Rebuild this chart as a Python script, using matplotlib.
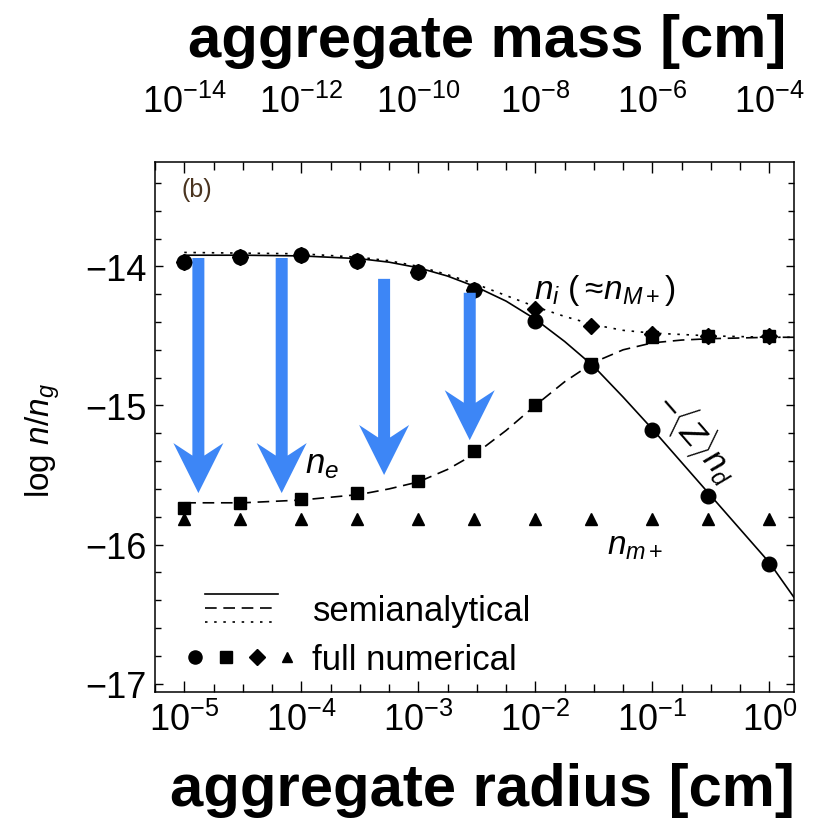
import numpy as np
import matplotlib
matplotlib.use("Agg")
import matplotlib.pyplot as plt
from matplotlib.ticker import FixedLocator, NullFormatter, LogFormatterSciNotation
from matplotlib.patches import FancyArrow
from matplotlib.lines import Line2D
from matplotlib.legend_handler import HandlerBase

plt.rcParams['font.family'] = ['Liberation Sans', 'DejaVu Sans']
plt.rcParams['mathtext.fontset'] = 'custom'
plt.rcParams['mathtext.rm'] = 'Liberation Sans'
plt.rcParams['mathtext.it'] = 'Liberation Sans:italic'
plt.rcParams['mathtext.bf'] = 'Liberation Sans:bold'

# full numerical results (log n/n_g)
radius = [1e-5, 3e-5, 1e-4, 3e-4, 1e-3, 3e-3, 1e-2, 3e-2, 1e-1, 3e-1, 1.0]
num_Znd = [-13.97, -13.93, -13.92, -13.96, -14.04, -14.17, -14.39, -14.72, -15.18, -15.65, -16.14]
num_ne = [-15.74, -15.70, -15.67, -15.63, -15.54, -15.33, -15.00, -14.70, -14.51, -14.50, -14.50]
num_ni = [-13.97, -13.93, -13.92, -13.96, -14.04, -14.17, -14.31, -14.43, -14.49, -14.50, -14.50]
num_nm = [-15.82, -15.82, -15.82, -15.82, -15.82, -15.82, -15.82, -15.82, -15.82, -15.82, -15.82]

# semianalytical curves, read at these log10(radius) values
curve_logr = [-5, -4.5, -4, -3.5, -3.25, -3, -2.75, -2.5, -2.25, -2, -1.75,
              -1.5, -1.25, -1, -0.75, -0.5, -0.25, 0, 0.21]
semi_Znd = [-13.92, -13.92, -13.925, -13.945, -13.97, -14.01, -14.07, -14.15, -14.25,
            -14.38, -14.54, -14.72, -14.94, -15.17, -15.41, -15.65, -15.89, -16.13, -16.38]
semi_ne = [-15.70, -15.70, -15.68, -15.64, -15.60, -15.55, -15.46, -15.34, -15.18,
           -15.00, -14.83, -14.69, -14.60, -14.55, -14.53, -14.52, -14.515, -14.51, -14.51]
semi_ni = [-13.90, -13.905, -13.91, -13.935, -13.96, -14.00, -14.06, -14.13, -14.21,
           -14.29, -14.36, -14.42, -14.46, -14.48, -14.49, -14.50, -14.505, -14.51, -14.51]

# blue arrows: radius, start and end of log n/n_g
arrow_r = [1.32e-5, 6.8e-5, 5.1e-4, 2.75e-3]
arrow_top = [-13.94, -13.94, -14.09, -14.19]
arrow_tip = [-15.63, -15.63, -15.50, -15.25]
arrow_color = '#3d86f6'

mass_ticks = [1e-14, 1e-12, 1e-10, 1e-8, 1e-6, 1e-4]


class StackedLines(HandlerBase):
    # three line styles stacked above each other
    def create_artists(self, legend, orig_handle, xdescent, ydescent, width, height, fontsize, trans):
        yc = height / 2 - ydescent
        arts = []
        for k, h in enumerate(orig_handle):
            y = yc + (1 - k) * 10
            ln = Line2D([-xdescent, width - xdescent], [y, y], color='k', lw=h.get_linewidth(),
                        transform=trans)
            dash = h._unscaled_dash_pattern[1]
            if dash:
                ln.set_dashes(dash)
            arts.append(ln)
        return arts


class RowMarkers(HandlerBase):
    # markers side by side
    def create_artists(self, legend, orig_handle, xdescent, ydescent, width, height, fontsize, trans):
        n = len(orig_handle)
        xc = width / 2 - xdescent
        yc = height / 2 - ydescent
        arts = []
        for k, h in enumerate(orig_handle):
            x = xc + (k - (n - 1) / 2) * 22
            arts.append(Line2D([x], [yc], marker=h.get_marker(), ms=h.get_markersize() * 0.9,
                               color='k', ls='none', transform=trans))
        return arts


fig = plt.figure(figsize=(8.21, 8.20), dpi=100)
ax = fig.add_axes([0.1888, 0.1549, 0.7783, 0.6463])
ax.set_xscale('log')
ax.set_xlim(10 ** -5.25, 10 ** 0.21)
ax.set_ylim(-17.06, -13.25)

r_curve = 10 ** np.array(curve_logr)
l_solid, = ax.plot(r_curve, semi_Znd, color='k', lw=1.2)
l_dash, = ax.plot(r_curve, semi_ne, color='k', lw=1.2, dashes=(7, 4))
l_dot, = ax.plot(r_curve, semi_ni, color='k', lw=1.2, dashes=(1.5, 4))

m_circ, = ax.plot(radius, num_Znd, 'o', color='k', ms=10.5)
m_sq, = ax.plot(radius, num_ne, 's', color='k', ms=9)
m_dia, = ax.plot(radius, num_ni, 'D', color='k', ms=8.5)
m_tri, = ax.plot(radius, num_nm, '^', color='k', ms=8.5)

# ticks
ax.xaxis.set_major_locator(FixedLocator(10.0 ** np.arange(-5, 1)))
ax.xaxis.set_minor_locator(FixedLocator(10.0 ** np.arange(-5.25, 0.3, 0.25)))
ax.xaxis.set_minor_formatter(NullFormatter())
ax.xaxis.set_major_formatter(LogFormatterSciNotation())
ax.set_yticks([-14, -15, -16, -17])
ax.yaxis.set_minor_locator(FixedLocator(np.arange(-17.0, -13.2, 0.2)))
ax.tick_params(which='both', direction='in', top=True, right=True, width=1.0, colors='k')
ax.tick_params(axis='x', which='major', length=8, labelsize=26, pad=7)
ax.tick_params(axis='x', which='minor', length=5.5)
ax.tick_params(axis='y', which='major', length=6, labelsize=26, pad=6)
ax.tick_params(axis='y', which='minor', length=4)
for s in ax.spines.values():
    s.set_linewidth(1.1)

top = ax.secondary_xaxis('top', functions=(lambda r: 1e-4 * r ** 2, lambda m: np.sqrt(m / 1e-4)))
top.set_xticks(mass_ticks)
top.xaxis.set_minor_locator(FixedLocator([]))
top.xaxis.set_major_formatter(LogFormatterSciNotation())
top.tick_params(axis='x', length=0, labelsize=26, pad=30)
top.spines['top'].set_visible(False)

ax.set_ylabel(r'log $n/n_g$', fontsize=24)
ax.yaxis.set_label_coords(-0.146, 0.477)

# arrows, converted from data to axes fraction
bbox = ax.get_window_extent()
to_axes = ax.transAxes.inverted()
for r, y0, y1 in zip(arrow_r, arrow_top, arrow_tip):
    x0a, y0a = to_axes.transform(ax.transData.transform((r, y0)))
    _, y1a = to_axes.transform(ax.transData.transform((r, y1)))
    ax.add_patch(FancyArrow(x0a, y0a, 0, y1a - y0a, width=12 / bbox.width,
                            head_width=50 / bbox.width, head_length=50 / bbox.height,
                            length_includes_head=True, overhang=0.25,
                            transform=ax.transAxes, color=arrow_color, lw=0, zorder=5))

# curve labels
ax.text(0.066, 0.949, '(b)', transform=ax.transAxes, fontsize=18, color='#4a3420',
        ha='center', va='center')
ax.text(9.8e-3, -14.17, r'$n_i$ ($\approx\!n_{M+}$)', fontsize=24, ha='left', va='center')
ax.text(1.5e-4, -15.42, r'$n_e$', fontsize=25, ha='center', va='center')
ax.text(0.245, -15.23, r'$-\langle Z\rangle n_d$', fontsize=24, ha='center', va='center',
        rotation=-49, rotation_mode='anchor')
ax.text(0.0716, -16.01, r'$n_{m+}$', fontsize=24, ha='center', va='center')

ax.legend([(l_solid, l_dash, l_dot), (m_circ, m_sq, m_dia, m_tri)],
          ['semianalytical', 'full numerical'],
          handler_map={(l_solid, l_dash, l_dot): StackedLines(),
                       (m_circ, m_sq, m_dia, m_tri): RowMarkers()},
          loc='lower left', bbox_to_anchor=(0.078, 0.03), frameon=False, fontsize=25,
          handlelength=2.1, handletextpad=1.0, labelspacing=0.45, borderpad=0,
          borderaxespad=0)

fig.text(487 / 821, 1 - 57 / 820, 'aggregate mass [cm]', fontsize=43, fontweight='bold',
         ha='center', va='baseline')
fig.text(482 / 821, 1 - 806 / 820, 'aggregate radius [cm]', fontsize=43, fontweight='bold',
         ha='center', va='baseline')

fig.savefig('out.png', dpi=100)
